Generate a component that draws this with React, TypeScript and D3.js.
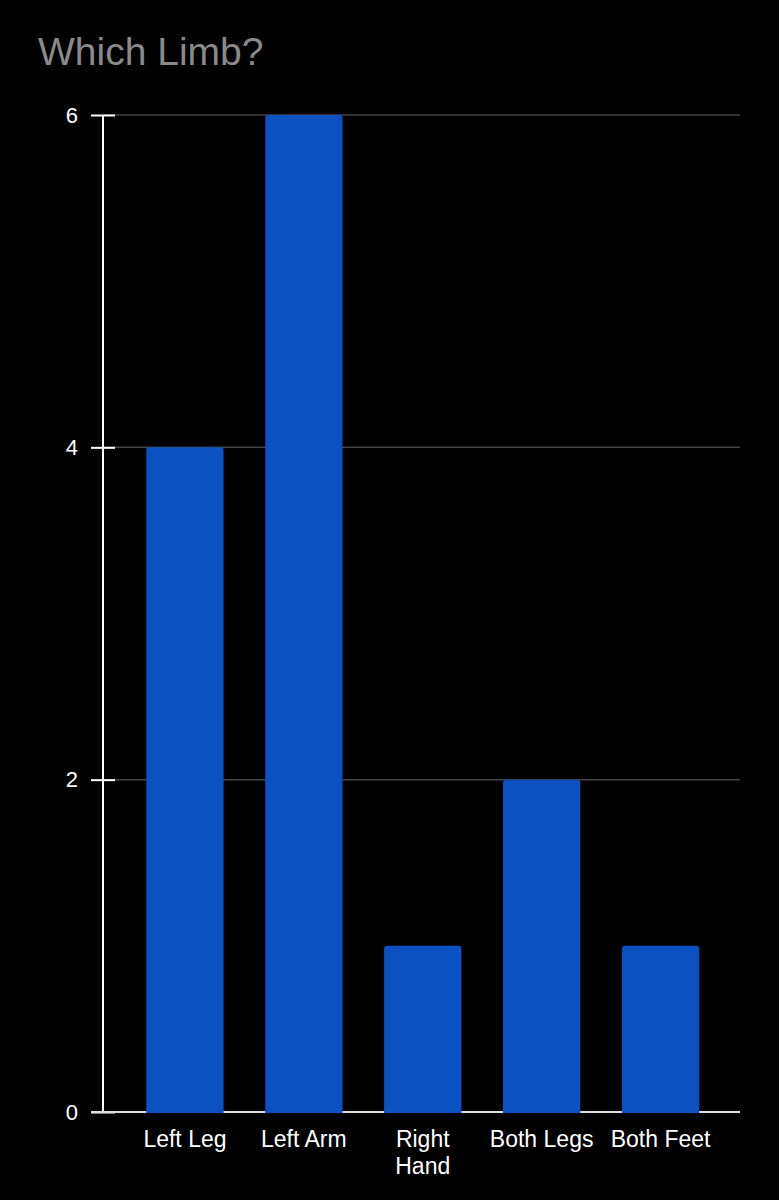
import * as d3 from 'd3';
import { useEffect, useRef } from 'react';

const categories = ['Left Leg', 'Left Arm', 'Right Hand', 'Both Legs', 'Both Feet'];
const counts = [4, 6, 1, 2, 1];
const yTicks = [0, 2, 4, 6];

const W = 779;
const H = 1200;

export default function App() {
  const svgRef = useRef<SVGSVGElement | null>(null);

  useEffect(() => {
    if (!svgRef.current) return;
    const svg = d3.select(svgRef.current);
    svg.selectAll('*').remove();

    const font = '"Liberation Sans", Arial, sans-serif';
    const left = 103;
    const right = 740;
    const top = 115;
    const bottom = 1112;

    svg.append('rect').attr('width', W).attr('height', H).attr('fill', '#000');

    // title
    svg.append('text')
      .attr('x', 38).attr('y', 65)
      .attr('fill', '#8a8a8a')
      .attr('font-family', font)
      .attr('font-size', 39)
      .text('Which Limb?');

    const y = d3.scaleLinear().domain([0, 6]).range([bottom, top]);
    const x = d3.scaleBand<string>()
      .domain(categories)
      .range([125.5, 720])
      .paddingInner(0.35)
      .paddingOuter(0.175);

    // gridlines
    svg.append('g')
      .selectAll('line')
      .data(yTicks.filter(t => t > 0))
      .join('line')
      .attr('x1', left).attr('x2', right)
      .attr('y1', d => y(d)).attr('y2', d => y(d))
      .attr('stroke', '#444')
      .attr('stroke-width', 1.5);

    // y axis
    const yAxis = svg.append('g')
      .attr('transform', `translate(${left},0)`)
      .call(d3.axisLeft(y).tickValues(yTicks).tickSize(12).tickPadding(13).tickFormat(d3.format('d')));
    yAxis.select('.domain').attr('stroke', '#fff').attr('stroke-width', 2).attr('d', `M0,${top}V${bottom}`);
    yAxis.selectAll('.tick line').attr('stroke', '#fff').attr('stroke-width', 2).attr('x1', 12);
    yAxis.selectAll('.tick text')
      .attr('fill', '#fff')
      .attr('font-family', font)
      .attr('font-size', 22);

    // baseline
    svg.append('line')
      .attr('x1', 91).attr('x2', right)
      .attr('y1', bottom).attr('y2', bottom)
      .attr('stroke', '#ddd')
      .attr('stroke-width', 2);

    // bars with rounded tops
    const r = 3;
    svg.append('g')
      .selectAll('path')
      .data(categories.map((c, i) => ({ c, v: counts[i] })))
      .join('path')
      .attr('fill', '#0b51c1')
      .attr('d', d => {
        const x0 = x(d.c)!;
        const w = x.bandwidth();
        const y0 = y(d.v);
        const y1 = y(0) + 1;
        return `M${x0},${y1}V${y0 + r}Q${x0},${y0} ${x0 + r},${y0}H${x0 + w - r}Q${x0 + w},${y0} ${x0 + w},${y0 + r}V${y1}Z`;
      });

    // x labels
    const labels = svg.append('g');
    categories.forEach(c => {
      const cx = x(c)! + x.bandwidth() / 2;
      const words = c === 'Right Hand' ? ['Right', 'Hand'] : [c];
      const t = labels.append('text')
        .attr('x', cx).attr('y', 1147)
        .attr('text-anchor', 'middle')
        .attr('fill', '#fff')
        .attr('font-family', font)
        .attr('font-size', 23);
      words.forEach((w, i) => {
        t.append('tspan').attr('x', cx).attr('dy', i === 0 ? 0 : 27).text(w);
      });
    });
  }, []);

  return (
    <div style={{ position: 'absolute', left: 0, top: 0, background: '#000', width: W, height: H }}>
      <svg ref={svgRef} width={W} height={H} style={{ display: 'block' }} />
    </div>
  );
}
